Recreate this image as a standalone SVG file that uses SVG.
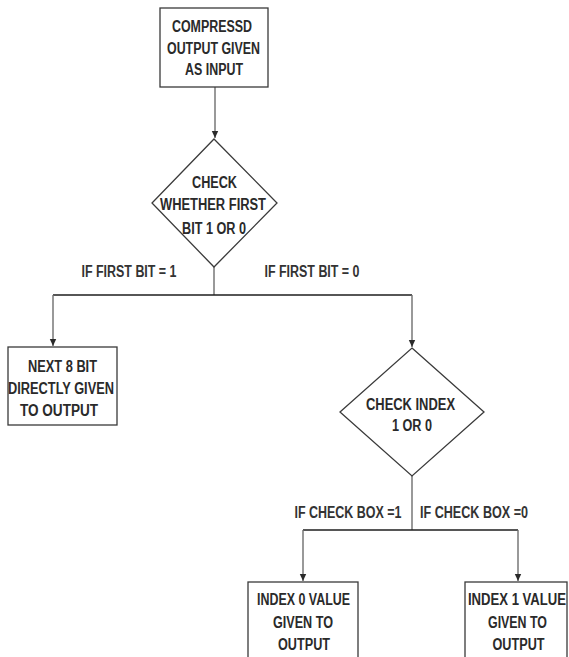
<svg xmlns="http://www.w3.org/2000/svg" width="569" height="657" viewBox="0 0 569 657">
  <style>
    .box { fill: #ffffff; stroke: #3a3a3a; stroke-width: 1.3; }
    .t { font-family: "Liberation Sans", Arial, sans-serif; font-weight: bold; font-size: 16px; fill: #2a2a2a; text-anchor: middle; }
    .lbl { font-family: "Liberation Sans", Arial, sans-serif; font-weight: bold; font-size: 16px; fill: #333333; text-anchor: middle; }
    .v { fill: none; stroke: #6e6e6e; stroke-width: 1.4; }
    .h { fill: none; stroke: #1e1e1e; stroke-width: 1.4; }
  </style>
  <defs>
    <marker id="arrow" markerWidth="8" markerHeight="8" refX="7" refY="4" orient="auto" markerUnits="userSpaceOnUse">
      <path d="M0,0.8 L7,4 L0,7.2 Z" fill="#2a2a2a"/>
    </marker>
  </defs>
  <rect width="569" height="657" fill="#ffffff"/>

  <!-- connectors -->
  <g id="connectors">
    <line class="v" x1="215" y1="87" x2="215" y2="138" marker-end="url(#arrow)"/>
    <line class="v" x1="214" y1="267" x2="214" y2="295"/>
    <polyline class="h" points="53,295 412,295"/>
    <line class="v" x1="53" y1="295" x2="53" y2="346" marker-end="url(#arrow)"/>
    <line class="v" x1="412" y1="295" x2="412" y2="347" marker-end="url(#arrow)"/>
    <line class="v" x1="412" y1="476" x2="412" y2="530"/>
    <polyline class="h" points="303,530 518,530"/>
    <line class="v" x1="303" y1="530" x2="303" y2="581" marker-end="url(#arrow)"/>
    <line class="v" x1="518" y1="530" x2="518" y2="581" marker-end="url(#arrow)"/>
    <text class="lbl" x="129" y="276.5" textLength="95" lengthAdjust="spacingAndGlyphs">IF FIRST BIT = 1</text>
    <text class="lbl" x="312" y="276.5" textLength="95" lengthAdjust="spacingAndGlyphs">IF FIRST BIT = 0</text>
    <text class="lbl" x="348" y="517.5" textLength="107" lengthAdjust="spacingAndGlyphs">IF CHECK BOX =1</text>
    <text class="lbl" x="474" y="517.5" textLength="108" lengthAdjust="spacingAndGlyphs">IF CHECK BOX =0</text>
  </g>

  <!-- start box -->
  <g id="input">
    <rect class="box" x="160" y="8" width="108" height="79"/>
    <text class="t" x="212" y="32" textLength="80" lengthAdjust="spacingAndGlyphs">COMPRESSD</text>
    <text class="t" x="213.5" y="53.5" textLength="93" lengthAdjust="spacingAndGlyphs">OUTPUT GIVEN</text>
    <text class="t" x="214" y="74.5" textLength="58" lengthAdjust="spacingAndGlyphs">AS INPUT</text>
  </g>

  <!-- first decision -->
  <g id="check-first-bit">
    <polygon class="box" points="214,139 277,203 214,267 152,203"/>
    <text class="t" x="214.5" y="187.5" textLength="45" lengthAdjust="spacingAndGlyphs">CHECK</text>
    <text class="t" x="213" y="209.5" textLength="106" lengthAdjust="spacingAndGlyphs">WHETHER FIRST</text>
    <text class="t" x="214" y="233.5" textLength="64" lengthAdjust="spacingAndGlyphs">BIT 1 OR 0</text>
  </g>

  <!-- direct output -->
  <g id="direct-output">
    <rect class="box" x="8" y="347" width="109" height="78"/>
    <text class="t" x="62.5" y="371.5" textLength="69" lengthAdjust="spacingAndGlyphs">NEXT 8 BIT</text>
    <text class="t" x="61" y="393.5" textLength="106" lengthAdjust="spacingAndGlyphs">DIRECTLY GIVEN</text>
    <text class="t" x="59" y="415.5" textLength="78" lengthAdjust="spacingAndGlyphs">TO OUTPUT</text>
  </g>

  <!-- second decision -->
  <g id="check-index">
    <polygon class="box" points="412,348 484,412 412,476 340,412"/>
    <text class="t" x="410.5" y="409.5" textLength="89" lengthAdjust="spacingAndGlyphs">CHECK  INDEX</text>
    <text class="t" x="412" y="430.5" textLength="40" lengthAdjust="spacingAndGlyphs">1 OR 0</text>
  </g>

  <!-- index 0 output -->
  <g id="index0-output">
    <rect class="box" x="248" y="582" width="110" height="90"/>
    <text class="t" x="303.5" y="604.5" textLength="93" lengthAdjust="spacingAndGlyphs">INDEX 0 VALUE</text>
    <text class="t" x="303" y="627.5" textLength="60" lengthAdjust="spacingAndGlyphs">GIVEN TO</text>
    <text class="t" x="304" y="649.5" textLength="52" lengthAdjust="spacingAndGlyphs">OUTPUT</text>
  </g>

  <!-- index 1 output -->
  <g id="index1-output">
    <rect class="box" x="465" y="582" width="102" height="90"/>
    <!-- narrowed horizontally so the line fits inside the box -->
    <text class="t" transform="translate(517 604.5) scale(0.82 1)" x="0" y="0">INDEX 1 VALUE</text>
    <text class="t" x="517.5" y="627.5" textLength="59" lengthAdjust="spacingAndGlyphs">GIVEN TO</text>
    <text class="t" x="518.5" y="649.5" textLength="52" lengthAdjust="spacingAndGlyphs">OUTPUT</text>
  </g>
</svg>
